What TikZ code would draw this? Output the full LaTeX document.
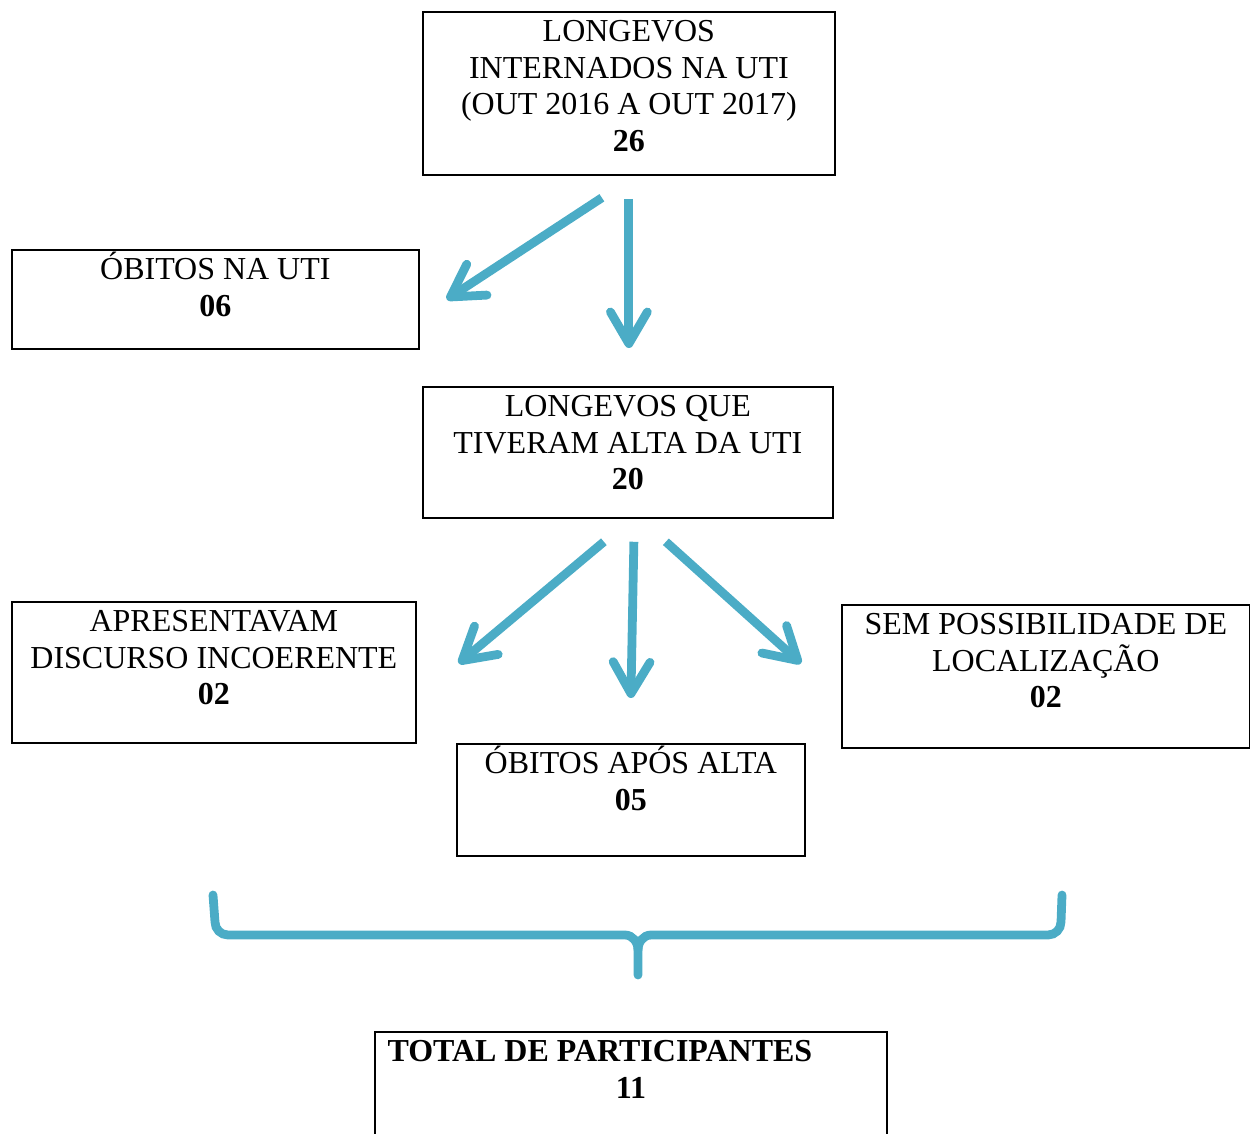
\documentclass[tikz,border=0pt]{standalone}
\usepackage{fontspec}
\setmainfont{Liberation Serif}
\usetikzlibrary{arrows.meta,calc}
\definecolor{azul}{HTML}{4BACC6}
\newlength{\px}
\setlength{\px}{0.02cm}
% caixa de texto: largura, altura, texto (alinhado ao topo)
\newcommand{\caixa}[3]{\parbox[c][#2\px][t]{#1\px}{\centering\rule{0pt}{30\px}#3}}

\begin{document}
\begin{tikzpicture}[x=0.02cm,y=-0.02cm,
      every node/.style={inner sep=0pt, font=\fontsize{18.2}{20.8}\selectfont},
      box/.style={draw=black, line width=1pt, anchor=north west},
      seta/.style={draw=azul, line width=5pt, -{Straight Barb[length=18pt,width=21pt,round]}},
      chave/.style={draw=azul, line width=5pt, line cap=round}]
      \path[use as bounding box] (0,0) rectangle (1250,1133);
      \clip (0,0) rectangle (1250,1133);
      % caixas
      \node[box] (topo) at (422,11) {\caixa{412}{163}{LONGEVOS\\INTERNADOS NA UTI\\(OUT 2016 A OUT 2017)\\\textbf{26}}};
      \node[box] (obitos) at (11,249) {\caixa{407}{99}{ÓBITOS NA UTI\\\textbf{06}}};
      \node[box] (alta) at (422,386) {\caixa{410}{131}{LONGEVOS QUE\\TIVERAM ALTA DA UTI\\\textbf{20}}};
      \node[box] (incoerente) at (11,601) {\caixa{404}{141}{APRESENTAVAM\\DISCURSO INCOERENTE\\\textbf{02}}};
      \node[box] (localiz) at (841,604) {\caixa{408}{143}{SEM POSSIBILIDADE DE\\LOCALIZAÇÃO\\\textbf{02}}};
      \node[box] (obitosalta) at (456,743) {\caixa{348}{112}{ÓBITOS APÓS ALTA\\\textbf{05}}};
      \node[box] (total) at (374,1031) {\caixa{512}{140}{\hspace*{-62\px}\textbf{TOTAL DE PARTICIPANTES}\\\textbf{11}}};
      % setas
      \draw[seta] ($(topo.south)+(-27,22)$) -- ($(obitos.east)+(27,0)$);
      \draw[seta] ($(topo.south)+(0,23)$) -- ($(alta.north)+(1,-38)$);
      \draw[seta] ($(alta.south)+(-24,23)$) -- ($(incoerente.east)+(42,-9)$);
      \draw[seta] ($(alta.south)+(6,23)$) -- ($(obitosalta.north)+(0,-45)$);
      \draw[seta] ($(alta.south)+(38,23)$) -- ($(localiz.west)+(-40,-13)$);
      % chave
      \draw[chave] (213,895) -- (215,922) to[out=-90,in=180] (228,935) -- (625,935)
            to[out=0,in=90] (638,950) -- (638,975);
      \draw[chave] (638,950) to[out=90,in=180] (651,935) -- (1048,935)
            to[out=0,in=-90] (1061,922) -- (1062,895);
\end{tikzpicture}
\end{document}
